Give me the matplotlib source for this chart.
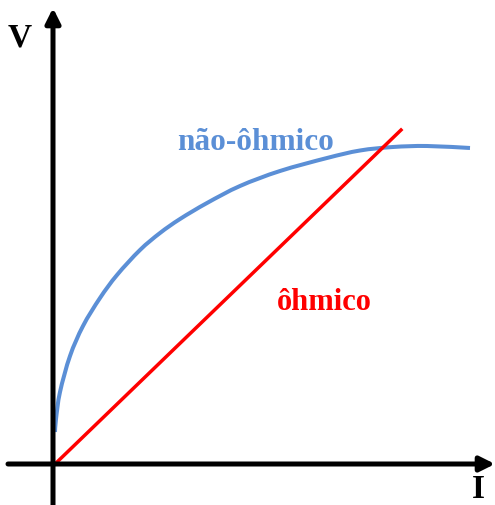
import matplotlib.pyplot as plt
from matplotlib.path import Path
from matplotlib.patches import PathPatch

# curve (pixel offsets from the origin)
I_nonohmic = [0, 1, 5, 15, 28, 45, 62, 85, 105, 125, 152, 185, 225, 272, 305, 338, 372, 415]
V_nonohmic = [32, 45, 72, 108, 138, 166, 189, 214, 231, 245, 261, 278, 293, 306, 313.5, 317, 318, 316]

I_ohmic = [0, 346]
V_ohmic = [0, 334]

blue = '#5B8FD6'
red = '#FF0000'


def smooth_path(xs, ys):
    # catmull-rom through the read points, drawn as cubic bezier segments
    pts = list(zip(xs, ys))
    verts = [pts[0]]
    codes = [Path.MOVETO]
    for i in range(len(pts) - 1):
        p0 = pts[i - 1] if i > 0 else pts[i]
        p1 = pts[i]
        p2 = pts[i + 1]
        p3 = pts[i + 2] if i + 2 < len(pts) else pts[i + 1]
        c1 = (p1[0] + (p2[0] - p0[0]) / 6, p1[1] + (p2[1] - p0[1]) / 6)
        c2 = (p2[0] - (p3[0] - p1[0]) / 6, p2[1] - (p3[1] - p1[1]) / 6)
        verts += [c1, c2, p2]
        codes += [Path.CURVE4] * 3
    return Path(verts, codes)


fig = plt.figure(figsize=(4.95, 5.06), dpi=100)
ax = fig.add_axes([0, 0, 1, 1])
ax.set_xlim(-55, 440)
ax.set_ylim(-41, 465)
ax.axis('off')

# axes with arrow heads
ax.annotate('', xy=(440, 0), xytext=(-47, 0),
            arrowprops=dict(arrowstyle='-|>', lw=3.6, color='black',
                            mutation_scale=22, shrinkA=0, shrinkB=0))
ax.annotate('', xy=(-2, 456), xytext=(-2, -41),
            arrowprops=dict(arrowstyle='-|>', lw=3.6, color='black',
                            mutation_scale=22, shrinkA=0, shrinkB=0))

ax.add_patch(PathPatch(smooth_path(I_nonohmic, V_nonohmic), fill=False,
                       edgecolor=blue, lw=2.9, capstyle='butt'))
ax.plot(I_ohmic, V_ohmic, color=red, lw=2.5)

font = dict(family='Liberation Serif', weight='bold')
ax.text(-35, 427, 'V', fontsize=24, ha='center', va='center', **font)
ax.text(423, -25, 'I', fontsize=24, ha='center', va='center', **font)
ax.text(201, 322, 'não-ôhmico', fontsize=22.5, color=blue, ha='center', va='center', **font)
ax.text(269, 163, 'ôhmico', fontsize=22, color=red, ha='center', va='center', **font)

fig.savefig('out.png', dpi=100)
